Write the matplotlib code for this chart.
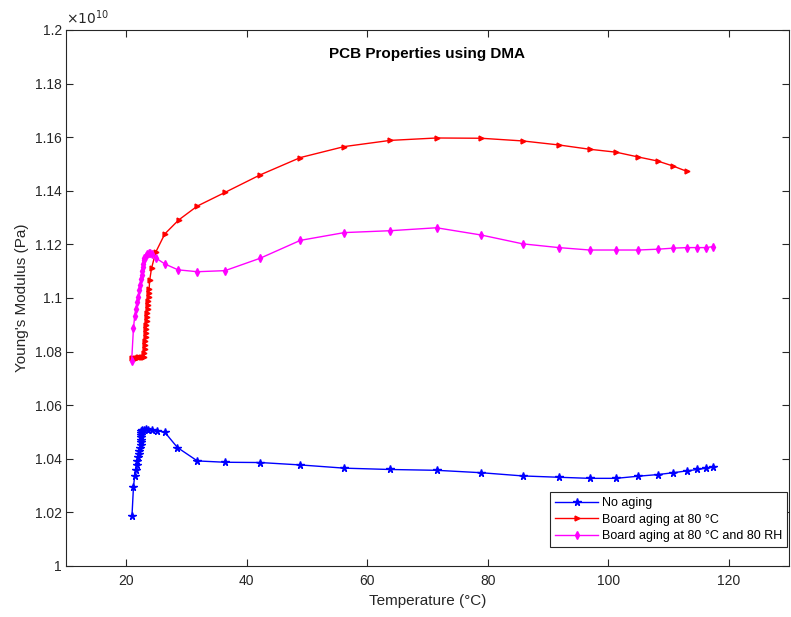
import numpy as np
import matplotlib
matplotlib.use("Agg")
import matplotlib.pyplot as plt
from matplotlib.ticker import FuncFormatter

plt.rcParams['font.family'] = ['Liberation Sans', 'DejaVu Sans']

# Young's modulus in units of 1e10 Pa
temp_none = [20.95, 21.2, 21.4, 21.55, 21.72, 21.85, 21.98, 22.1, 22.2, 22.3, 22.38, 22.45,
             22.49, 22.48, 22.42, 22.4, 22.5, 22.7, 22.9, 23.2, 23.6, 24.2, 25.1, 26.4,
             28.5, 31.8, 36.4, 42.2, 48.9, 56.2, 63.8, 71.5, 78.9, 85.8, 91.8, 96.9,
             101.3, 105.0, 108.2, 110.8, 113.1, 114.8, 116.3, 117.4]
mod_none = [1.0185, 1.0294, 1.0336, 1.0358, 1.0377, 1.0392, 1.0405, 1.0418, 1.0430, 1.0442,
            1.0452, 1.0462, 1.0471, 1.0480, 1.0488, 1.0496, 1.0502, 1.0506, 1.0508, 1.0510,
            1.0509, 1.0508, 1.0505, 1.0499, 1.0442, 1.0392, 1.0387, 1.0386, 1.0377, 1.0365,
            1.0360, 1.0357, 1.0348, 1.0336, 1.0331, 1.0327, 1.0327, 1.0335, 1.0341, 1.0348,
            1.0355, 1.0360, 1.0365, 1.0371]

temp_80 = [21.0, 21.2, 21.4, 21.6, 21.8, 22.0, 22.2, 22.4, 22.6, 22.8, 22.95,
           23.0, 23.05, 23.1, 23.15, 23.2, 23.25, 23.3, 23.35, 23.4, 23.45, 23.5, 23.55,
           23.6, 23.65, 23.7, 23.75, 23.8, 23.9, 24.2, 24.9, 26.4, 28.7, 31.8, 36.4,
           42.2, 48.9, 56.2, 63.8, 71.5, 78.9, 85.8, 91.8, 96.9, 101.3, 105.0, 108.2,
           110.8, 113.1]
mod_80 = [1.0775, 1.0776, 1.0776, 1.0777, 1.0777, 1.0778, 1.0778, 1.0779, 1.0779, 1.0780, 1.0781,
          1.0795, 1.0810, 1.0825, 1.0840, 1.0855, 1.0870, 1.0885, 1.0900, 1.0915, 1.0930, 1.0945,
          1.0960, 1.0975, 1.0990, 1.1005, 1.1020, 1.1035, 1.1067, 1.1111, 1.1171, 1.1239, 1.1291,
          1.1343, 1.1394, 1.1459, 1.1524, 1.1565, 1.1588, 1.1597, 1.1596, 1.1586, 1.1571, 1.1555,
          1.1544, 1.1526, 1.1511, 1.1492, 1.1472]

temp_80rh = [20.9, 21.2, 21.4, 21.6, 21.8, 22.0, 22.2, 22.35, 22.5, 22.6, 22.7, 22.8, 22.85,
             22.9, 23.0, 23.2, 23.4, 23.7, 24.0, 24.2, 25.0, 26.4, 28.6, 31.8, 36.4, 42.2,
             48.9, 56.2, 63.8, 71.5, 78.9, 85.8, 91.8, 96.9, 101.3, 105.0, 108.2, 110.8,
             113.1, 114.8, 116.3, 117.4]
mod_80rh = [1.0765, 1.0887, 1.0931, 1.0960, 1.0985, 1.1005, 1.1030, 1.1050, 1.1070, 1.1085,
            1.1100, 1.1115, 1.1128, 1.1140, 1.1150, 1.1158, 1.1163, 1.1166, 1.1166, 1.1164,
            1.1148, 1.1127, 1.1105, 1.1098, 1.1102, 1.1148, 1.1215, 1.1244, 1.1251, 1.1262,
            1.1235, 1.1202, 1.1188, 1.1179, 1.1179, 1.1179, 1.1182, 1.1186, 1.1188, 1.1188,
            1.1188, 1.1192]

labels = ["No aging", "Board aging at 80 \u00b0C", "Board aging at 80 \u00b0C and 80 RH"]

fig = plt.figure(figsize=(7.91, 6.17), dpi=100)
ax = fig.add_axes([0.0834, 0.0827, 0.9141, 0.8687])

ax.plot(temp_none, mod_none, color="#0000ff", marker="*", markersize=5.5, lw=1, label=labels[0])
ax.plot(temp_80, mod_80, color="#ff0000", marker=">", markersize=3.5, lw=1, label=labels[1])
ax.plot(temp_80rh, mod_80rh, color="#ff00ff", marker="d", markersize=4, lw=1, label=labels[2])

ax.set_xlim(10, 130)
ax.set_ylim(1.0, 1.2)
ax.set_xticks(np.arange(20, 121, 20))
ax.set_yticks(np.arange(1.0, 1.2001, 0.02))
ax.yaxis.set_major_formatter(FuncFormatter(lambda v, p: "%g" % round(v, 2)))
ax.tick_params(direction="in", top=True, right=True, length=5, width=0.8,
               labelsize=10, colors="#262626")
ax.tick_params(axis="y", pad=3)
ax.tick_params(axis="x", pad=6)
for s in ax.spines.values():
    s.set_color("#262626")
    s.set_linewidth(0.8)

ax.set_xlabel("Temperature (\u00b0C)", fontsize=11, color="#262626")
ax.set_ylabel("Young's Modulus (Pa)", fontsize=11, color="#262626")
ax.text(0.5, 0.955, "PCB Properties using DMA", transform=ax.transAxes, ha="center",
        va="center", fontsize=11, fontweight="bold")
ax.text(0.0, 1.005, r"$\times10^{10}$", transform=ax.transAxes, ha="left", va="bottom",
        fontsize=10, color="#262626")

leg = ax.legend(loc="lower right", bbox_to_anchor=(0.997, 0.035), borderaxespad=0,
                fontsize=9, fancybox=False, framealpha=1, edgecolor="#262626",
                handlelength=3.4, handletextpad=0.3, labelspacing=0.35, borderpad=0.4)
leg.get_frame().set_linewidth(0.8)

fig.savefig("out.png", dpi=100)
